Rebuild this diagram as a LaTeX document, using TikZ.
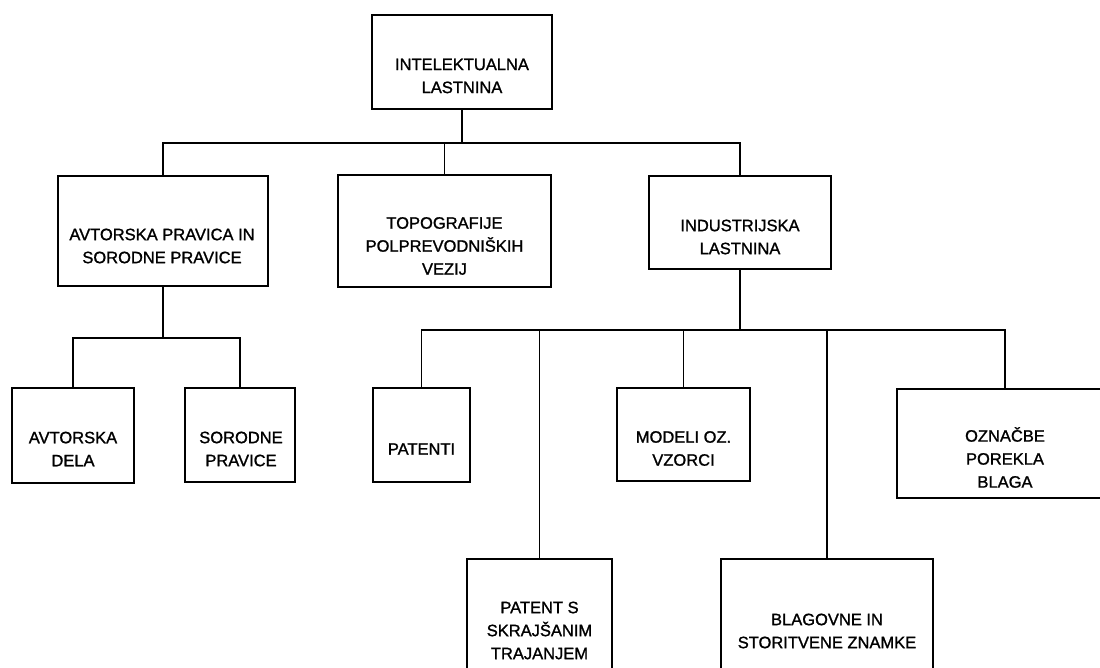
\documentclass[tikz,border=0pt]{standalone}
\usepackage{fontspec}
\setmainfont{Liberation Sans}[FakeBold=1.2]
\begin{document}
\begin{tikzpicture}[x=1pt,y=-1pt,
  box/.style={draw, line width=1.7pt, inner sep=0pt},
  lbl/.style={align=center, inner sep=0pt, font=\fontsize{16.5}{23}\selectfont},
  conn/.style={line width=1.6pt}]
\path[use as bounding box, clip] (0,0) rectangle (1100,667);
\fill[white] (0,0) rectangle (1100,667);
% boxes
\node[box, minimum width=180pt, minimum height=94pt] (top) at (462,62) {};
\node[lbl] (ttop) at (462,76) {INTELEKTUALNA\\LASTNINA};
\node[box, minimum width=210pt, minimum height=110pt] (avtp) at (163,231) {};
\node[lbl] (tavtp) at (162,246) {AVTORSKA PRAVICA IN\\SORODNE PRAVICE};
\node[box, minimum width=213pt, minimum height=112pt] (topo) at (444.5,231) {};
\node[lbl] (ttopo) at (444.5,246) {TOPOGRAFIJE\\POLPREVODNIŠKIH\\VEZIJ};
\node[box, minimum width=182pt, minimum height=93pt] (ind) at (740,222.5) {};
\node[lbl] (tind) at (740,237) {INDUSTRIJSKA\\LASTNINA};
\node[box, minimum width=122pt, minimum height=95pt] (avtd) at (73,435.5) {};
\node[lbl] (tavtd) at (73,449) {AVTORSKA\\DELA};
\node[box, minimum width=110pt, minimum height=94pt] (sorp) at (240,435) {};
\node[lbl] (tsorp) at (241,449) {SORODNE\\PRAVICE};
\node[box, minimum width=97pt, minimum height=94pt] (pat) at (421.5,435) {};
\node[lbl] (tpat) at (421.5,449) {PATENTI};
\node[box, minimum width=133pt, minimum height=93pt] (mod) at (683.5,434.5) {};
\node[lbl] (tmod) at (683.5,448.5) {MODELI OZ.\\VZORCI};
\node[box, minimum width=216pt, minimum height=109pt] (ozn) at (1005,443.5) {};
\node[lbl] (tozn) at (1005,457.5) {OZNAČBE\\POREKLA\\BLAGA};
\node[box, minimum width=145pt, minimum height=141pt] (pats) at (539.5,629.5) {};
\node[lbl] (tpats) at (539.5,630.5) {PATENT S\\SKRAJŠANIM\\TRAJANJEM};
\node[box, minimum width=212pt, minimum height=141pt] (blag) at (827,629.5) {};
\node[lbl] (tblag) at (827,631) {BLAGOVNE IN\\STORITVENE ZNAMKE};
% connectors
\coordinate (b1) at (462,143);
\draw[conn] (top.south) -- (top.south |- b1);
\draw[conn] (avtp.north) -- (avtp.north |- b1) -- (ind.north |- b1) -- (ind.north);
\draw[conn] (topo.north) -- (topo.north |- b1);
\coordinate (b2) at (163,338);
\draw[conn] (avtp.south) -- (avtp.south |- b2);
\draw[conn] (avtd.north) -- (avtd.north |- b2) -- (sorp.north |- b2) -- (sorp.north);
\coordinate (b3) at (740,330);
\draw[conn] (ind.south) -- (ind.south |- b3);
\draw[conn] (pat.north) -- (pat.north |- b3) -- (ozn.north |- b3) -- (ozn.north);
\draw[conn] (pats.north) -- (pats.north |- b3);
\draw[conn] (mod.north) -- (mod.north |- b3);
\draw[conn] (blag.north) -- (blag.north |- b3);
\end{tikzpicture}
\end{document}
